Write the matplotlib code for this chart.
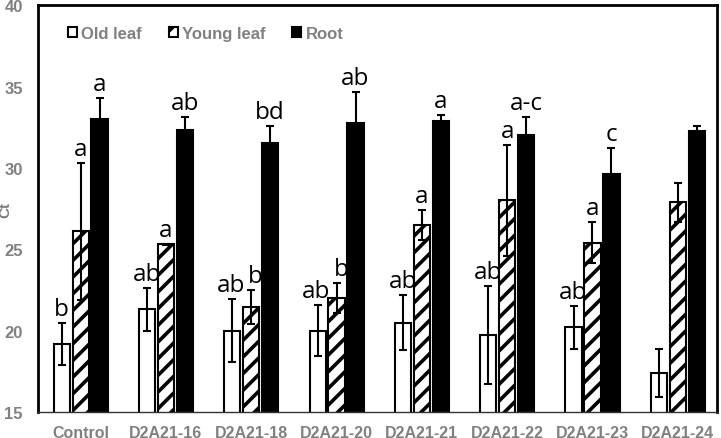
import matplotlib
matplotlib.use("Agg")
import matplotlib.pyplot as plt
import numpy as np
from matplotlib.patches import Patch

categories = ["Control", "D2A21-16", "D2A21-18", "D2A21-20", "D2A21-21",
              "D2A21-22", "D2A21-23", "D2A21-24"]
old_leaf = [19.2, 21.3, 20.0, 20.0, 20.5, 19.75, 20.2, 17.4]
old_err = [1.3, 1.35, 1.95, 1.55, 1.7, 3.0, 1.3, 1.45]
young_leaf = [26.1, 25.3, 21.45, 22.0, 26.5, 28.0, 25.4, 27.9]
young_err = [4.2, 0.05, 1.05, 0.9, 0.9, 3.4, 1.25, 1.2]
root = [33.0, 32.3, 31.5, 32.75, 32.9, 32.0, 29.65, 32.25]
root_err = [1.3, 0.8, 1.05, 1.9, 0.35, 1.1, 1.55, 0.35]
old_lbl = ["b", "ab", "ab", "ab", "ab", "ab", "ab", ""]
young_lbl = ["a", "a", "b", "b", "a", "a", "a", ""]
root_lbl = ["a", "ab", "bd", "ab", "a", "a-c", "c", ""]

plt.rcParams['hatch.linewidth'] = 2.6
gray = "#808080"

fig = plt.figure(figsize=(7.21, 4.39), dpi=100)
ax = fig.add_axes([0.0527, 0.0592, 0.9418, 0.9268])

x = np.arange(len(categories))
w = 0.19
off = 0.222
ekw = dict(ecolor="black", elinewidth=1.5, capsize=3, capthick=1.5)

ax.bar(x - off, old_leaf, w, color="white", edgecolor="black",
       linewidth=1.5, yerr=old_err, error_kw=ekw, zorder=2)
ax.bar(x, young_leaf, w, color="white", edgecolor="black", hatch="//",
       linewidth=1.5, yerr=young_err, error_kw=ekw, zorder=2)
ax.bar(x + off, root, w, color="black", edgecolor="black",
       linewidth=1.5, yerr=root_err, error_kw=ekw, zorder=2)

lfont = dict(family=["Open Sans", "DejaVu Sans"], fontsize=17.5, color="black")
for i in range(len(categories)):
    old_top = old_leaf[i] + old_err[i]
    young_top = young_leaf[i] + young_err[i]
    close = abs(old_top - young_top) < 1.5
    for dx, top, lbl in [(-off - (0.02 if close else 0), old_top, old_lbl[i]),
                         (0 + (0.05 if close else 0), young_top, young_lbl[i]),
                         (off, root[i] + root_err[i], root_lbl[i])]:
        if lbl:
            ax.text(x[i] + dx, top + 0.12, lbl,
                    ha="center", va="bottom", **lfont)

ax.set_ylim(15, 40)
ax.set_xlim(-0.5, 7.46)
ax.set_yticks([15, 20, 25, 30, 35, 40])
ax.set_xticks(x)
ax.set_xticklabels(categories)
for lab in ax.get_xticklabels():
    lab.set_fontfamily("Liberation Sans")
    lab.set_fontweight("bold")
    lab.set_fontsize(11.5)
    lab.set_color(gray)
for lab in ax.get_yticklabels():
    lab.set_fontfamily("Liberation Sans")
    lab.set_fontweight("bold")
    lab.set_fontsize(12)
    lab.set_color(gray)
ax.tick_params(axis="both", length=0)
ax.tick_params(axis="y", pad=11)
ax.tick_params(axis="x", pad=9)
ax.set_ylabel("Ct", fontfamily="Liberation Sans", fontweight="bold",
              fontsize=11, color=gray)
ax.yaxis.set_label_coords(-0.037, 0.5)

for s in ["top", "left", "right"]:
    ax.spines[s].set_linewidth(2)
    ax.spines[s].set_color("black")
ax.spines["bottom"].set_linewidth(1)
ax.spines["bottom"].set_color("#333333")

handles = [Patch(facecolor="white", edgecolor="black", linewidth=1.5),
           Patch(facecolor="white", edgecolor="black", hatch="//", linewidth=1.5),
           Patch(facecolor="black", edgecolor="black", linewidth=1.5)]
leg = ax.legend(handles, ["Old leaf", "Young leaf", "Root"], loc="upper left",
                bbox_to_anchor=(0.022, 0.985), ncol=3, frameon=False,
                handlelength=0.55, handleheight=0.55, handletextpad=0.25,
                columnspacing=1.6,
                prop=dict(family="Liberation Sans", weight="bold", size=12))
for t in leg.get_texts():
    t.set_color(gray)

fig.savefig("out.png", dpi=100)
